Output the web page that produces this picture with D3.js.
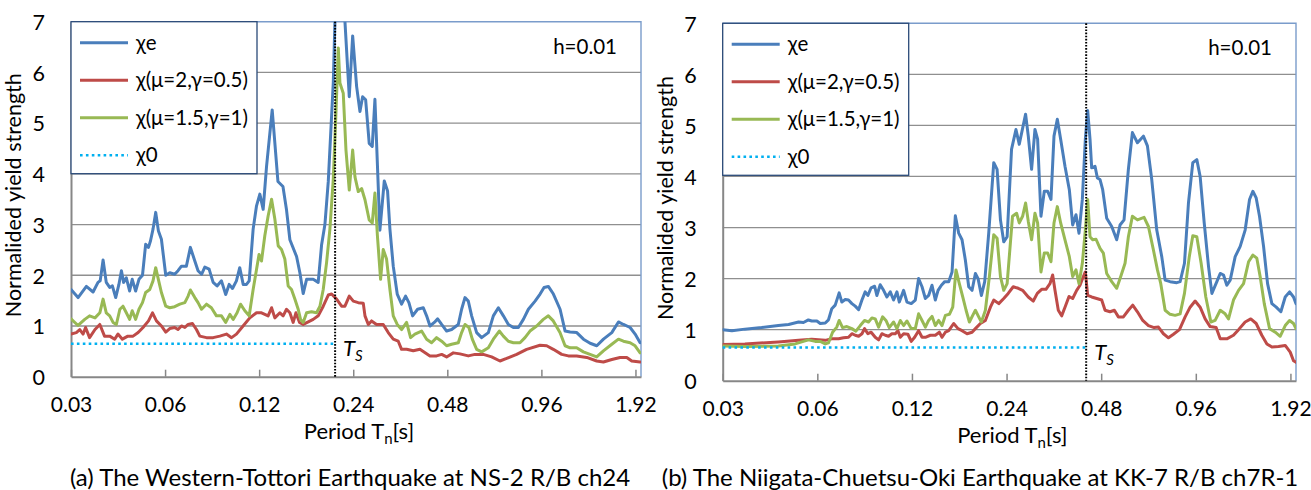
<!DOCTYPE html>
<html>
<head>
<meta charset="utf-8">
<script src="https://cdn.jsdelivr.net/npm/d3@7"></script>
<style>
  html, body { margin: 0; padding: 0; background: #fff; }
  svg { display: block; }
  text { font-family: Lato, "Open Sans", sans-serif; fill: #000; }
</style>
</head>
<body>
<svg id="fig" width="1311" height="490"></svg>
<script>
// Period axis ticks and value-axis ticks shared by both panels
const periodTicks = [0.03, 0.06, 0.12, 0.24, 0.48, 0.96, 1.92];
const periodTickLabels = ["0.03", "0.06", "0.12", "0.24", "0.48", "0.96", "1.92"];
const periodDomain = [0.03, 2.0];
const valueTicks = [0, 1, 2, 3, 4, 5, 6, 7];
const seriesNames = ["χe", "χ(μ=2,γ=0.5)", "χ(μ=1.5,γ=1)", "χ0"];
const dampingLabel = "h=0.01";

// (a) Western-Tottori, NS-2 R/B ch24 : [period (s), normalized yield strength]
const chiE_A = [[0.0300,1.72],[0.0316,1.56],[0.0336,1.78],[0.0353,1.67],[0.0366,1.86],[0.0372,1.89],[0.0380,2.30],[0.0389,1.86],[0.0399,1.76],[0.0407,1.79],[0.0417,1.56],[0.0427,1.82],[0.0435,2.09],[0.0442,1.86],[0.0451,1.95],[0.0462,1.69],[0.0471,1.92],[0.0483,1.69],[0.0495,1.92],[0.0508,2.00],[0.0520,2.61],[0.0531,2.55],[0.0539,2.68],[0.0549,2.91],[0.0560,3.24],[0.0571,2.88],[0.0584,2.71],[0.0603,2.00],[0.0621,2.05],[0.0644,2.02],[0.0660,2.09],[0.0677,2.18],[0.0702,2.18],[0.0723,2.55],[0.0747,2.28],[0.0765,2.09],[0.0785,2.02],[0.0804,2.16],[0.0830,2.12],[0.0855,1.86],[0.0880,1.79],[0.0909,1.89],[0.0938,1.62],[0.0962,1.82],[0.0986,1.74],[0.1015,1.89],[0.1040,2.15],[0.1067,1.82],[0.1093,1.82],[0.1115,1.89],[0.1148,2.91],[0.1177,3.37],[0.1206,3.60],[0.1236,3.30],[0.1267,4.14],[0.1321,5.26],[0.1378,3.85],[0.1430,3.75],[0.1468,3.29],[0.1505,2.70],[0.1581,2.37],[0.1620,2.05],[0.1660,1.64],[0.1702,1.92],[0.1787,1.92],[0.1854,1.86],[0.1901,2.60],[0.1948,3.00],[0.1997,3.85],[0.2072,5.80],[0.2097,7.00],[0.2176,7.60],[0.2258,7.00],[0.2331,5.52],[0.2390,6.72],[0.2461,5.72],[0.2522,5.23],[0.2572,5.52],[0.2630,5.46],[0.2700,4.60],[0.2761,4.54],[0.2816,5.47],[0.2921,2.89],[0.3017,3.86],[0.3091,3.66],[0.3145,2.91],[0.3223,2.18],[0.3319,1.63],[0.3427,1.43],[0.3530,1.59],[0.3617,1.46],[0.3717,1.20],[0.3856,1.33],[0.4022,1.36],[0.4121,1.20],[0.4225,1.00],[0.4362,1.07],[0.4470,1.14],[0.4604,1.03],[0.4776,0.90],[0.4955,0.93],[0.5205,1.03],[0.5334,1.33],[0.5467,1.56],[0.5603,1.49],[0.5743,1.20],[0.5959,0.87],[0.6182,0.77],[0.6495,0.87],[0.6738,1.20],[0.6992,1.36],[0.7255,1.20],[0.7527,1.03],[0.7810,0.97],[0.8103,0.97],[0.8407,1.13],[0.8723,1.33],[0.9164,1.49],[0.9508,1.63],[0.9790,1.76],[1.0106,1.78],[1.0489,1.63],[1.1018,1.33],[1.1432,0.90],[1.1859,0.88],[1.2459,0.87],[1.3087,0.74],[1.3747,0.66],[1.4441,0.61],[1.5168,0.74],[1.6126,0.87],[1.6939,1.08],[1.7573,1.03],[1.8459,0.97],[1.9152,0.84],[1.9872,0.67]];
const chiMu2_A = [[0.0300,0.84],[0.0312,0.87],[0.0320,0.93],[0.0328,0.84],[0.0334,0.97],[0.0344,0.77],[0.0358,0.93],[0.0371,1.03],[0.0384,0.80],[0.0399,0.80],[0.0414,0.74],[0.0424,0.84],[0.0438,0.74],[0.0456,0.80],[0.0474,0.80],[0.0492,0.87],[0.0510,0.97],[0.0531,1.10],[0.0547,1.26],[0.0563,1.10],[0.0584,1.00],[0.0603,0.88],[0.0621,0.95],[0.0644,0.97],[0.0660,0.93],[0.0677,1.00],[0.0694,0.97],[0.0711,1.03],[0.0734,1.05],[0.0756,0.93],[0.0775,0.80],[0.0814,0.77],[0.0855,0.77],[0.0898,0.80],[0.0943,0.84],[0.0979,0.77],[0.1015,0.84],[0.1066,1.00],[0.1120,1.16],[0.1177,1.26],[0.1221,1.26],[0.1282,1.20],[0.1315,1.36],[0.1347,1.16],[0.1398,1.26],[0.1432,1.20],[0.1468,1.33],[0.1505,1.26],[0.1542,1.07],[0.1573,1.26],[0.1616,1.07],[0.1660,1.03],[0.1723,1.08],[0.1787,1.13],[0.1854,1.20],[0.1924,1.39],[0.1997,1.61],[0.2047,1.63],[0.2123,1.53],[0.2203,1.39],[0.2258,1.39],[0.2331,1.59],[0.2401,1.49],[0.2491,1.46],[0.2584,1.45],[0.2617,1.20],[0.2682,1.03],[0.2747,1.10],[0.2850,1.03],[0.2994,1.03],[0.3106,0.87],[0.3223,0.74],[0.3344,0.70],[0.3427,0.54],[0.3556,0.54],[0.3735,0.51],[0.3923,0.54],[0.4223,0.41],[0.4436,0.41],[0.4604,0.44],[0.4775,0.39],[0.5016,0.47],[0.5268,0.45],[0.5603,0.41],[0.5884,0.44],[0.6257,0.44],[0.6654,0.39],[0.7075,0.31],[0.7432,0.36],[0.8001,0.44],[0.8613,0.54],[0.9503,0.62],[0.9982,0.61],[1.048,0.54],[1.115,0.44],[1.171,0.41],[1.245,0.41],[1.341,0.38],[1.443,0.31],[1.516,0.29],[1.613,0.34],[1.714,0.38],[1.801,0.38],[1.868,0.31],[1.987,0.29]];
const chiMu15_A = [[0.0300,1.14],[0.0316,1.01],[0.0332,1.13],[0.0344,1.20],[0.0358,1.16],[0.0371,1.26],[0.0380,1.53],[0.0389,1.26],[0.0399,1.20],[0.0409,1.07],[0.0419,1.03],[0.0430,1.33],[0.0440,1.39],[0.0451,1.26],[0.0462,1.13],[0.0471,1.30],[0.0483,1.13],[0.0495,1.33],[0.0508,1.46],[0.0520,1.66],[0.0536,1.72],[0.0549,1.89],[0.0560,2.15],[0.0571,1.92],[0.0584,1.66],[0.0603,1.39],[0.0621,1.36],[0.0644,1.38],[0.0669,1.43],[0.0694,1.46],[0.0711,1.59],[0.0723,1.71],[0.0747,1.56],[0.0765,1.46],[0.0785,1.33],[0.0814,1.43],[0.0844,1.36],[0.0876,1.20],[0.0909,1.20],[0.0938,1.07],[0.0967,1.23],[0.0991,1.13],[0.1020,1.26],[0.1046,1.43],[0.1080,1.30],[0.1115,1.20],[0.1148,1.72],[0.1199,2.41],[0.1221,2.28],[0.1251,2.78],[0.1282,3.17],[0.1315,3.50],[0.1347,3.11],[0.1381,2.58],[0.1415,2.51],[0.1450,2.32],[0.1486,1.79],[0.1523,1.72],[0.1561,1.53],[0.1600,1.33],[0.1628,1.13],[0.1660,1.07],[0.1702,1.26],[0.1765,1.28],[0.1832,1.26],[0.1878,1.39],[0.1924,1.72],[0.1972,2.25],[0.2021,2.91],[0.2072,3.90],[0.2113,5.20],[0.2150,6.48],[0.2176,5.79],[0.2230,5.59],[0.2275,4.47],[0.2331,3.68],[0.2390,4.47],[0.2431,3.94],[0.2491,3.65],[0.2553,3.71],[0.2617,3.49],[0.2700,3.09],[0.2761,3.03],[0.2816,3.62],[0.2868,2.78],[0.2936,1.92],[0.2994,2.51],[0.3068,2.32],[0.3145,1.72],[0.3223,1.20],[0.3319,1.03],[0.3427,0.93],[0.3556,1.07],[0.3662,0.77],[0.3781,0.84],[0.3972,0.90],[0.4121,0.74],[0.4275,0.67],[0.4436,0.77],[0.4604,0.70],[0.4775,0.61],[0.4955,0.64],[0.5205,0.67],[0.5334,0.87],[0.5467,1.03],[0.5629,0.97],[0.5770,0.74],[0.5959,0.54],[0.6182,0.49],[0.6495,0.57],[0.6738,0.74],[0.7040,0.90],[0.7255,0.80],[0.7527,0.70],[0.7810,0.67],[0.8200,0.67],[0.8508,0.77],[0.8827,0.90],[0.9272,1.00],[0.9739,1.13],[1.0106,1.20],[1.048,1.10],[1.101,0.87],[1.143,0.61],[1.186,0.57],[1.245,0.57],[1.308,0.49],[1.374,0.44],[1.443,0.39],[1.516,0.51],[1.613,0.64],[1.694,0.74],[1.757,0.70],[1.846,0.67],[1.915,0.61],[1.987,0.47]];
const chi0_A = 0.65;
const Ts_A = 0.21;

// (b) Niigata-Chuetsu-Oki, KK-7 R/B ch7R-1
const chiE_B = [[0.0300,1.00],[0.0321,0.98],[0.0353,1.01],[0.0399,1.04],[0.0451,1.08],[0.0486,1.10],[0.0523,1.15],[0.0542,1.14],[0.0562,1.19],[0.0576,1.17],[0.0598,1.17],[0.0613,1.12],[0.0636,1.13],[0.0651,1.19],[0.0667,1.41],[0.0684,1.48],[0.0704,1.72],[0.0718,1.54],[0.0736,1.59],[0.0754,1.58],[0.0773,1.51],[0.0792,1.46],[0.0812,1.39],[0.0832,1.58],[0.0852,1.74],[0.0869,1.67],[0.0890,1.82],[0.0913,1.85],[0.0928,1.67],[0.0951,1.88],[0.0975,1.77],[0.0999,1.64],[0.1024,1.74],[0.1049,1.58],[0.1075,1.74],[0.1094,1.54],[0.1129,1.77],[0.1157,1.54],[0.1194,1.51],[0.1230,1.58],[0.1260,2.00],[0.1292,1.84],[0.1324,1.61],[0.1356,1.67],[0.1390,1.87],[0.1424,1.58],[0.1453,1.77],[0.1489,1.87],[0.1526,1.94],[0.1571,1.94],[0.1610,2.13],[0.1649,3.23],[0.1690,2.89],[0.1732,2.76],[0.1775,2.36],[0.1819,1.84],[0.1864,1.77],[0.1910,2.10],[0.1948,2.00],[0.1996,1.67],[0.2045,1.94],[0.2106,2.89],[0.2185,4.27],[0.2239,4.14],[0.2295,3.15],[0.2351,2.72],[0.2410,2.82],[0.2489,4.53],[0.2571,4.92],[0.2634,4.63],[0.2759,5.22],[0.2814,4.79],[0.2883,4.14],[0.2955,4.92],[0.3013,4.73],[0.3088,3.22],[0.3164,3.71],[0.3243,3.71],[0.3323,3.55],[0.3397,4.79],[0.3481,5.12],[0.3567,4.73],[0.3682,4.20],[0.3801,3.74],[0.3895,3.05],[0.3991,3.25],[0.4080,2.89],[0.4181,3.55],[0.4274,4.73],[0.4348,5.29],[0.4423,4.73],[0.4477,4.17],[0.4588,4.20],[0.4668,3.97],[0.4760,3.94],[0.4853,3.74],[0.4998,3.18],[0.5185,3.02],[0.5378,2.76],[0.5511,3.05],[0.5675,3.15],[0.5858,4.14],[0.6033,4.86],[0.6259,4.66],[0.6540,4.79],[0.6735,4.60],[0.6952,3.94],[0.7212,2.95],[0.7481,2.43],[0.7667,1.97],[0.7953,1.94],[0.8351,1.92],[0.8558,1.94],[0.8835,2.30],[0.9097,3.48],[0.9391,4.27],[0.9671,4.33],[0.9910,4.00],[1.021,3.09],[1.054,2.23],[1.080,1.71],[1.120,1.94],[1.148,2.10],[1.176,2.07],[1.205,1.87],[1.235,1.97],[1.281,2.43],[1.329,2.63],[1.378,2.95],[1.423,3.55],[1.458,3.71],[1.494,3.58],[1.531,3.22],[1.577,2.63],[1.624,1.90],[1.676,1.51],[1.730,1.44],[1.790,1.35],[1.848,1.64],[1.908,1.74],[1.964,1.64],[2.000,1.51]];
const chiMu2_B = [[0.0300,0.71],[0.0353,0.72],[0.0451,0.76],[0.0523,0.79],[0.0576,0.81],[0.0636,0.79],[0.0667,0.82],[0.0701,0.82],[0.0727,0.84],[0.0754,0.85],[0.0773,0.92],[0.0792,0.89],[0.0812,0.87],[0.0832,0.92],[0.0848,1.02],[0.0869,0.92],[0.0890,0.95],[0.0917,0.85],[0.0940,0.80],[0.0963,0.92],[0.0987,0.89],[0.1011,0.87],[0.1036,0.92],[0.1062,0.92],[0.1083,0.98],[0.1102,0.85],[0.1129,0.92],[0.1165,0.91],[0.1194,0.77],[0.1224,0.85],[0.1260,0.98],[0.1292,0.85],[0.1324,0.85],[0.1373,0.89],[0.1424,0.89],[0.1467,0.95],[0.1496,0.85],[0.1533,0.95],[0.1571,0.98],[0.1629,1.12],[0.1682,1.02],[0.1732,0.98],[0.1797,0.92],[0.1864,0.95],[0.1910,1.02],[0.1981,1.12],[0.2055,1.18],[0.2132,1.44],[0.2185,1.58],[0.2267,1.51],[0.2351,1.61],[0.2429,1.71],[0.2520,1.84],[0.2615,1.81],[0.2699,1.77],[0.2814,1.64],[0.2919,1.56],[0.3006,1.71],[0.3103,1.79],[0.3203,1.79],[0.3298,1.90],[0.3364,2.07],[0.3422,1.77],[0.3506,1.38],[0.3593,1.27],[0.3682,1.44],[0.3792,1.65],[0.3895,1.61],[0.4011,1.77],[0.4110,1.87],[0.4212,2.04],[0.4274,2.13],[0.4348,1.67],[0.4477,1.64],[0.4645,1.61],[0.4818,1.58],[0.4938,1.38],[0.5122,1.35],[0.5287,1.38],[0.5444,1.25],[0.5648,1.25],[0.5858,1.38],[0.6048,1.48],[0.6259,1.35],[0.6508,1.18],[0.6785,1.08],[0.7073,1.04],[0.7301,1.05],[0.7573,0.92],[0.7857,0.84],[0.8150,0.91],[0.8517,1.00],[0.8878,1.25],[0.9209,1.44],[0.9553,1.56],[0.9910,1.44],[1.028,1.21],[1.066,1.06],[1.114,1.04],[1.148,0.82],[1.205,0.82],[1.265,0.89],[1.313,1.00],[1.378,1.15],[1.436,1.21],[1.494,1.12],[1.557,0.89],[1.616,0.72],[1.676,0.66],[1.759,0.67],[1.848,0.69],[1.917,0.56],[1.964,0.39],[2.000,0.36]];
const chiMu15_B = [[0.0300,0.68],[0.0353,0.67],[0.0451,0.68],[0.0510,0.72],[0.0562,0.80],[0.0591,0.77],[0.0613,0.77],[0.0636,0.72],[0.0651,0.74],[0.0671,0.95],[0.0692,1.05],[0.0704,1.18],[0.0722,1.04],[0.0745,1.06],[0.0773,1.02],[0.0796,0.97],[0.0822,1.08],[0.0848,1.18],[0.0873,1.15],[0.0895,1.23],[0.0917,1.21],[0.0940,1.05],[0.0968,1.25],[0.0992,1.18],[0.1016,1.04],[0.1049,1.15],[0.1075,1.02],[0.1102,1.18],[0.1129,1.08],[0.1157,1.17],[0.1194,1.02],[0.1230,1.02],[0.1260,1.31],[0.1292,1.18],[0.1324,1.05],[0.1356,1.18],[0.1390,1.26],[0.1424,1.08],[0.1460,1.18],[0.1496,1.08],[0.1533,1.28],[0.1579,1.30],[0.1618,1.44],[0.1657,2.17],[0.1698,1.90],[0.1741,1.64],[0.1784,1.38],[0.1828,1.15],[0.1873,1.28],[0.1910,1.38],[0.1957,1.25],[0.1996,1.15],[0.2055,1.38],[0.2116,2.04],[0.2185,2.86],[0.2239,2.79],[0.2295,2.04],[0.2351,1.77],[0.2410,1.90],[0.2507,3.22],[0.2583,3.28],[0.2634,3.09],[0.2699,3.22],[0.2759,3.48],[0.2814,3.12],[0.2883,2.76],[0.2955,3.28],[0.3013,3.09],[0.3088,2.13],[0.3164,2.50],[0.3243,2.50],[0.3323,2.33],[0.3397,3.09],[0.3481,3.41],[0.3567,3.09],[0.3682,2.76],[0.3801,2.43],[0.3895,2.04],[0.3991,2.17],[0.4080,1.90],[0.4181,2.30],[0.4274,2.95],[0.4348,3.55],[0.4423,2.82],[0.4510,2.76],[0.4622,2.77],[0.4760,2.59],[0.4877,2.50],[0.4998,2.10],[0.5185,1.94],[0.5378,1.81],[0.5539,2.04],[0.5717,2.30],[0.5858,2.82],[0.6033,3.22],[0.6259,3.15],[0.6572,3.20],[0.6785,3.02],[0.7038,2.56],[0.7248,2.17],[0.7427,1.90],[0.7667,1.38],[0.7953,1.30],[0.8250,1.28],[0.8558,1.31],[0.8835,1.71],[0.9153,2.43],[0.9391,2.84],[0.9671,2.82],[0.9982,2.30],[1.033,1.64],[1.072,1.15],[1.106,1.18],[1.148,1.38],[1.190,1.31],[1.220,1.21],[1.265,1.58],[1.313,1.77],[1.362,1.90],[1.413,2.33],[1.458,2.46],[1.501,2.40],[1.538,2.04],[1.585,1.51],[1.648,1.02],[1.718,0.95],[1.781,0.87],[1.848,1.08],[1.908,1.18],[1.964,1.12],[2.000,1.02]];
const chi0_B = 0.65;
const Ts_B = 0.43;

const captionA = "(a) The Western-Tottori Earthquake at NS-2 R/B ch24";
const captionB = "(b) The Niigata-Chuetsu-Oki Earthquake at KK-7 R/B ch7R-1";

const colors = { e: "#4A7EBB", mu2: "#BE4B48", mu15: "#98B954", chi0: "#00B0F0" };

const svg = d3.select("#fig");

function drawPanel(id, box, series, chi0, Ts, caption, captionX) {
  const g = svg.append("g").attr("class", "panel-" + id);
  const x = d3.scaleLog().base(2).domain(periodDomain).range([box.left, box.right]);
  const y = d3.scaleLinear().domain([0, 7]).range([box.bottom, box.top]);

  g.append("clipPath").attr("id", "clip-" + id)
    .append("rect")
    .attr("x", box.left).attr("y", box.top)
    .attr("width", box.right - box.left).attr("height", box.bottom - box.top);

  // horizontal gridlines
  g.append("g").selectAll("line")
    .data(valueTicks.filter(v => v > 0 && v < 7))
    .join("line")
    .attr("x1", box.left).attr("x2", box.right)
    .attr("y1", d => y(d)).attr("y2", d => y(d))
    .attr("stroke", "#8F8F8F").attr("stroke-width", 1.3);

  // plot-area outline (top and right)
  g.append("path")
    .attr("d", `M${box.left},${y(7)}H${box.right}V${box.bottom}`)
    .attr("fill", "none").attr("stroke", "#7A9CCB").attr("stroke-width", 1.4);

  // bottom axis with inward ticks
  const xAxis = d3.axisBottom(x)
    .tickValues(periodTicks)
    .tickFormat((d, i) => periodTickLabels[i])
    .tickSize(-7).tickSizeOuter(0).tickPadding(0);
  const gx = g.append("g").attr("transform", `translate(0,${box.bottom})`).call(xAxis);
  gx.select(".domain").attr("stroke", "#878787").attr("stroke-width", 2);
  gx.selectAll(".tick line").attr("stroke", "#878787").attr("stroke-width", 1.5);
  gx.selectAll(".tick text")
    .attr("y", 35.5).attr("dy", 0)
    .attr("font-size", 21).attr("font-family", "Lato").attr("fill", "#000");

  // left axis, labels only
  const yAxis = d3.axisLeft(y).tickValues(valueTicks).tickFormat(d3.format("d"))
    .tickSize(0).tickPadding(26);
  const gy = g.append("g").attr("transform", `translate(${box.left},0)`).call(yAxis);
  gy.select(".domain").attr("stroke", "#878787").attr("stroke-width", 2);
  gy.selectAll(".tick text")
    .attr("dy", "0.36em")
    .attr("font-size", 21.5).attr("font-family", "Lato").attr("fill", "#000");

  // response curves
  const line = d3.line().x(d => x(d[0])).y(d => y(d[1]));
  const curves = g.append("g").attr("clip-path", `url(#clip-${id})`);
  series.forEach(s => {
    curves.append("path").datum(s.data)
      .attr("d", line)
      .attr("fill", "none")
      .attr("stroke", s.color).attr("stroke-width", 3)
      .attr("stroke-linejoin", "round").attr("stroke-linecap", "round");
  });

  // χ0 level up to Ts
  g.append("line")
    .attr("x1", x(periodDomain[0])).attr("x2", x(Ts))
    .attr("y1", y(chi0)).attr("y2", y(chi0))
    .attr("stroke", colors.chi0).attr("stroke-width", 2.6)
    .attr("stroke-dasharray", "2.6,3.3");

  // site period marker
  g.append("line")
    .attr("x1", x(Ts)).attr("x2", x(Ts))
    .attr("y1", box.top).attr("y2", box.bottom)
    .attr("stroke", "#000").attr("stroke-width", 2)
    .attr("stroke-dasharray", "1.6,1.5");

  const tsLabel = g.append("text")
    .attr("x", x(Ts) + 8).attr("y", y(chi0) + 12)
    .attr("font-family", "'Liberation Serif', 'DejaVu Serif', serif")
    .attr("font-style", "italic").attr("font-size", 22);
  tsLabel.append("tspan").text("T");
  tsLabel.append("tspan").attr("dy", 5).attr("font-size", 15).text("S");

  // damping note
  g.append("text")
    .attr("x", box.right - 24).attr("y", box.top + 32)
    .attr("text-anchor", "end").attr("font-size", 20.5)
    .text(dampingLabel);

  // legend
  const lg = g.append("g");
  lg.append("rect")
    .attr("x", box.left).attr("y", box.top)
    .attr("width", 186).attr("height", 152)
    .attr("fill", "#fff").attr("stroke", "#2A4A78").attr("stroke-width", 1.3);
  const legendItems = [
    { name: seriesNames[0], color: colors.e, dash: null },
    { name: seriesNames[1], color: colors.mu2, dash: null },
    { name: seriesNames[2], color: colors.mu15, dash: null },
    { name: seriesNames[3], color: colors.chi0, dash: "2.6,3.3" }
  ];
  legendItems.forEach((it, i) => {
    const cy = box.top + 21 + i * 37.5;
    lg.append("line")
      .attr("x1", box.left + 9).attr("x2", box.left + 57)
      .attr("y1", cy).attr("y2", cy)
      .attr("stroke", it.color).attr("stroke-width", it.dash ? 2.6 : 3)
      .attr("stroke-dasharray", it.dash);
    lg.append("text")
      .attr("x", box.left + 65).attr("y", cy).attr("dy", "0.35em")
      .attr("font-size", 20.5).text(it.name);
  });

  // axis titles
  const cx = (box.left + box.right) / 2;
  const xt = g.append("text")
    .attr("x", cx + 3).attr("y", box.bottom + 62)
    .attr("text-anchor", "middle").attr("font-size", 22);
  xt.append("tspan").text("Period T");
  xt.append("tspan").attr("dy", 5).attr("font-size", 15).text("n");
  xt.append("tspan").attr("dy", -5).text("[s]");

  g.append("text")
    .attr("transform", `translate(${box.left - 50},${(box.top + box.bottom) / 2 - 4}) rotate(-90)`)
    .attr("text-anchor", "middle").attr("font-size", 21.5)
    .text("Normalided yield strength");

  g.append("text")
    .attr("x", captionX).attr("y", 486)
    .attr("text-anchor", "middle").attr("font-size", 24)
    .text(caption);
}

drawPanel("a", { left: 71, right: 641, top: 21.7, bottom: 376.7 }, [
  { data: chiE_A, color: colors.e },
  { data: chiMu2_A, color: colors.mu2 },
  { data: chiMu15_A, color: colors.mu15 }
], chi0_A, Ts_A, captionA, 350);

drawPanel("b", { left: 722.7, right: 1296, top: 23.3, bottom: 380.7 }, [
  { data: chiE_B, color: colors.e },
  { data: chiMu2_B, color: colors.mu2 },
  { data: chiMu15_B, color: colors.mu15 }
], chi0_B, Ts_B, captionB, 980);
</script>
</body>
</html>
